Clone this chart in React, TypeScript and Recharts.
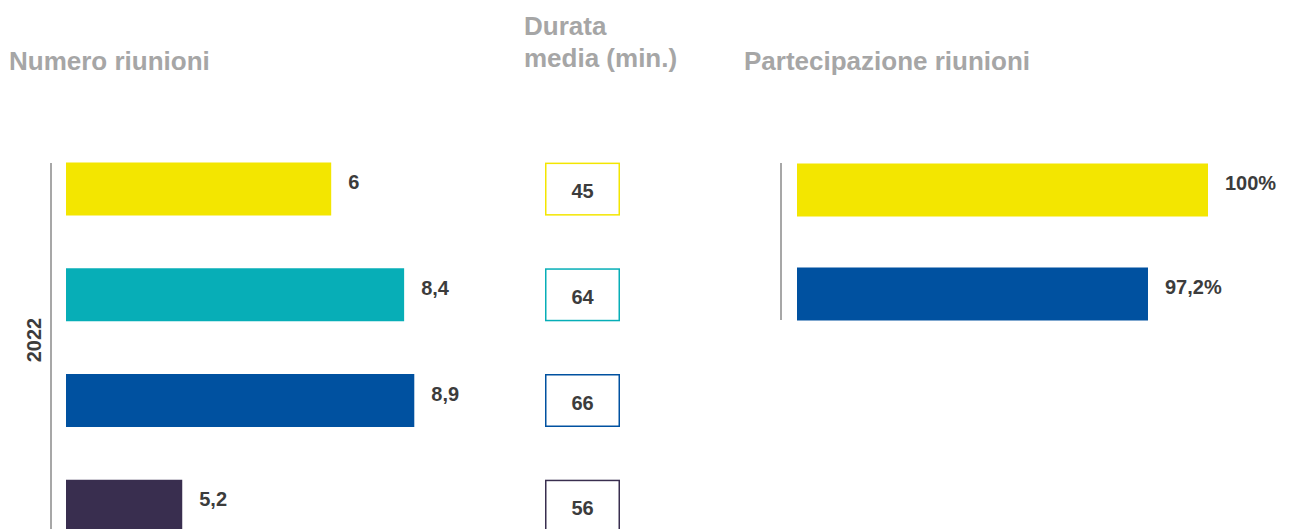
import React from 'react';
import { BarChart, Bar, XAxis, YAxis, Cell, LabelList, Label } from 'recharts';

// ---- data ----
const yearLabel = '2022';
const meetingCategories = ['Organo 1', 'Organo 2', 'Organo 3', 'Organo 4'];
const meetingValues = [6, 8.4, 8.9, 5.2];
const meetingLabels = ['6', '8,4', '8,9', '5,2'];
// bar lengths as they are drawn in the picture (same unit as the first bar)
const meetingBarLengths = [6, 7.65, 7.88, 2.63];
const durationValues = [45, 64, 66, 56];

const participationCategories = ['Organo 1', 'Organo 3'];
const participationValues = [100, 97.2];
const participationLabels = ['100%', '97,2%'];
const participationBarLengths = [100, 85.4];

// ---- styles ----
const meetingColors = ['#F3E600', '#07AEB7', '#0051A0', '#392E4F'];
const participationColors = ['#F3E600', '#0051A0'];
const FONT = '"Liberation Sans", Arial, Helvetica, sans-serif';
const TITLE_COLOR = '#a6a6a6';
const TEXT_COLOR = '#3c3c3c';
const AXIS_COLOR = '#8a8a8a';

const meetingData = meetingCategories.map((name, i) => ({
  name,
  value: meetingValues[i],
  length: meetingBarLengths[i],
  label: meetingLabels[i],
  duration: durationValues[i],
}));

const participationData = participationCategories.map((name, i) => ({
  name,
  value: participationValues[i],
  length: participationBarLengths[i],
  label: participationLabels[i],
}));

const renderBarLabel = (props: any) => {
  const { x, y, width, height, value } = props;
  return (
    <text
      x={Number(x) + Number(width) + 17}
      y={Number(y) + Number(height) / 2 - 7}
      dominantBaseline="central"
      textAnchor="start"
      fontFamily={FONT}
      fontWeight="bold"
      fontSize={20}
      fill={TEXT_COLOR}
    >
      {value}
    </text>
  );
};

const renderDurationBox = (props: any) => {
  const { x, y, width, height, index, payload } = props;
  return (
    <g key={`box-${index}`}>
      <rect
        x={x + 0.75}
        y={y + 0.75}
        width={width - 1.5}
        height={height - 1.5}
        fill="#ffffff"
        stroke={meetingColors[index]}
        strokeWidth={1.5}
      />
      <text
        x={x + width / 2}
        y={y + height / 2 + 2}
        dominantBaseline="central"
        textAnchor="middle"
        fontFamily={FONT}
        fontWeight="bold"
        fontSize={20}
        fill={TEXT_COLOR}
      >
        {payload.duration}
      </text>
    </g>
  );
};

const titleStyle: React.CSSProperties = {
  position: 'absolute',
  fontFamily: FONT,
  fontWeight: 'bold',
  fontSize: 26,
  color: TITLE_COLOR,
  whiteSpace: 'nowrap',
};

export default function App() {
  return (
    <div
      style={{
        position: 'absolute',
        left: 0,
        top: 0,
        width: 1289,
        height: 529,
        overflow: 'hidden',
        background: '#ffffff',
        fontFamily: FONT,
      }}
    >
      <div style={{ ...titleStyle, left: 9, top: 48, lineHeight: '26px' }}>Numero riunioni</div>
      <div style={{ ...titleStyle, left: 524, top: 10, lineHeight: '32px' }}>
        Durata
        <br />
        media (min.)
      </div>
      <div style={{ ...titleStyle, left: 744, top: 48, lineHeight: '26px' }}>Partecipazione riunioni</div>

      {/* Numero riunioni */}
      <div style={{ position: 'absolute', left: 0, top: 0 }}>
        <BarChart
          width={520}
          height={560}
          layout="vertical"
          data={meetingData}
          margin={{ top: 163, right: 12, bottom: 27, left: 0 }}
        >
          <XAxis type="number" dataKey="length" domain={[0, 10]} hide padding={{ left: 15, right: 0 }} />
          <YAxis
            type="category"
            dataKey="name"
            width={51}
            tick={false}
            tickLine={false}
            axisLine={{ stroke: AXIS_COLOR, strokeWidth: 1.5 }}
            padding={{ top: -26.4, bottom: -26.4 }}
          >
            <Label
              content={(p: any) => {
                const vb = p.viewBox || { x: 0, y: 163, width: 51, height: 370 };
                const cx = vb.x + 33.5;
                const cy = vb.y + vb.height / 2 - 8;
                return (
                  <text
                    x={cx}
                    y={cy}
                    transform={`rotate(-90 ${cx} ${cy})`}
                    textAnchor="middle"
                    dominantBaseline="central"
                    fontFamily={FONT}
                    fontWeight="bold"
                    fontSize={20}
                    fill={TEXT_COLOR}
                  >
                    {yearLabel}
                  </text>
                );
              }}
            />
          </YAxis>
          <Bar dataKey="length" barSize={53} isAnimationActive={false}>
            {meetingData.map((d, i) => (
              <Cell key={d.name} fill={meetingColors[i]} />
            ))}
            <LabelList dataKey="label" content={renderBarLabel} />
          </Bar>
        </BarChart>
      </div>

      {/* Durata media */}
      <div style={{ position: 'absolute', left: 520, top: 0 }}>
        <BarChart
          width={120}
          height={560}
          layout="vertical"
          data={meetingData}
          margin={{ top: 163, right: 20, bottom: 27, left: 25 }}
        >
          <XAxis type="number" dataKey="duration" domain={[0, 100]} hide />
          <YAxis type="category" dataKey="name" hide padding={{ top: -26.4, bottom: -26.4 }} />
          <Bar
            dataKey="duration"
            barSize={53}
            fill="none"
            isAnimationActive={false}
            background={renderDurationBox}
          />
        </BarChart>
      </div>

      {/* Partecipazione riunioni */}
      <div style={{ position: 'absolute', left: 730, top: 0 }}>
        <BarChart
          width={559}
          height={340}
          layout="vertical"
          data={participationData}
          margin={{ top: 163, right: 81, bottom: 20, left: 0 }}
        >
          <XAxis type="number" dataKey="length" domain={[0, 100]} hide padding={{ left: 16, right: 0 }} />
          <YAxis
            type="category"
            dataKey="name"
            width={51}
            tick={false}
            tickLine={false}
            axisLine={{ stroke: AXIS_COLOR, strokeWidth: 1.5 }}
            padding={{ top: -25.5, bottom: -25.5 }}
          />
          <Bar dataKey="length" barSize={53} isAnimationActive={false}>
            {participationData.map((d, i) => (
              <Cell key={d.name} fill={participationColors[i]} />
            ))}
            <LabelList dataKey="label" content={renderBarLabel} />
          </Bar>
        </BarChart>
      </div>
    </div>
  );
}
